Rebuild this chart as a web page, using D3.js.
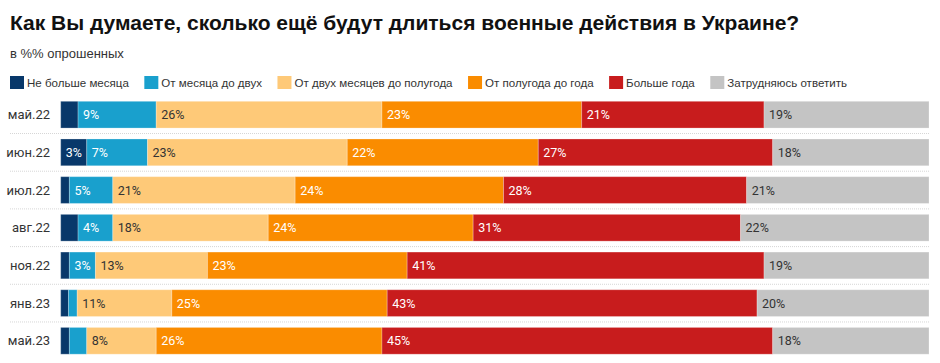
<!DOCTYPE html>
<html><head><meta charset="utf-8">
<script src="https://cdn.jsdelivr.net/npm/d3@7"></script>
<style>
body{margin:0;background:#fff;}
svg{display:block;}
</style></head>
<body>
<svg id="chart" width="940" height="363"></svg>
<script>
const categories = ["май.22","июн.22","июл.22","авг.22","ноя.22","янв.23","май.23"];
const seriesNames = ["Не больше месяца","От месяца до двух","От двух месяцев до полугода","От полугода до года","Больше года","Затрудняюсь ответить"];
const notMoreMonth   = [2, 3, 1, 2, 1, 0.9, 1];
const monthToTwo     = [9, 7, 5, 4, 3, 1, 2];
const twoToHalfYear  = [26, 23, 21, 17.9, 12.9, 10.9, 8];
const halfYearToYear = [23, 22, 24, 23.6, 23, 24.8, 26];
const moreThanYear   = [21, 27, 28, 30.8, 41.1, 42.6, 45];
const hardToSay      = [19, 18, 21, 21.7, 19, 19.8, 18];
const colors = ["#08386a","#19a0cd","#fec978","#fa8c00","#c81c1d","#c4c4c4"];
const textColors = ["#fff","#fff","#333","#fff","#fff","#333"];

const seriesValues = [notMoreMonth, monthToTwo, twoToHalfYear, halfYearToYear, moreThanYear, hardToSay];
const keys = seriesNames;
const table = categories.map((c,i)=>{
  const o = {cat:c};
  keys.forEach((k,j)=> o[k] = seriesValues[j][i]);
  return o;
});
const stack = d3.stack().keys(keys)(table);

const svg = d3.select("#chart");
const x = d3.scaleLinear().domain([0,100]).range([60.7, 929]);
const y = d3.scaleBand().domain(categories).range([101.3, 354.2]).paddingInner(0.29).paddingOuter(0);

// title
svg.append("text").attr("x",10).attr("y",30)
  .attr("font-family","'Liberation Sans', Arial, sans-serif").attr("font-weight","bold")
  .attr("font-size",21).attr("fill","#111")
  .text("Как Вы думаете, сколько ещё будут длиться военные действия в Украине?");
svg.append("text").attr("x",10).attr("y",58)
  .attr("font-family","'Liberation Sans', Arial, sans-serif")
  .attr("font-size",13).attr("fill","#333")
  .text("в %% опрошенных");

// legend
const lg = svg.append("g");
let lx = 10;
keys.forEach((k,j)=>{
  const g = lg.append("g").attr("transform",`translate(${lx},0)`);
  g.append("rect").attr("x",0).attr("y",76).attr("width",14).attr("height",13).attr("fill",colors[j]);
  const t = g.append("text").attr("x",17).attr("y",86.5)
    .attr("font-family","'Liberation Sans', Arial, sans-serif")
    .attr("font-size",11.55).attr("fill","#333").text(k);
  lx += 17 + t.node().getComputedTextLength() + 15.5;
});

// separators
categories.forEach((c,i)=>{
  if(i < categories.length-1){
    const yy = y(c) + y.bandwidth() + (y.step()-y.bandwidth())/2;
    svg.append("line").attr("x1",10).attr("x2",929).attr("y1",yy).attr("y2",yy)
      .attr("stroke","#d6d6d6").attr("stroke-width",1).attr("stroke-dasharray","1,1");
  }
});

// row labels
svg.append("g").selectAll("text").data(categories).join("text")
  .attr("x",50).attr("y",d=>y(d)+y.bandwidth()/2).attr("dy","0.35em")
  .attr("text-anchor","end").attr("font-family","Roboto, sans-serif")
  .attr("font-size",13).attr("fill","#333").text(d=>d);

// bars
const layers = svg.append("g").selectAll("g").data(stack).join("g");
layers.each(function(layer, j){
  const g = d3.select(this);
  g.selectAll("rect").data(layer).join("rect")
    .attr("x",d=>x(d[0])).attr("width",d=>x(d[1])-x(d[0]))
    .attr("y",d=>y(d.data.cat)).attr("height",y.bandwidth())
    .attr("fill",colors[j]).attr("stroke","rgba(255,255,255,0.25)").attr("stroke-width",1);
  g.selectAll("text").data(layer.filter(d=>d[1]-d[0] >= 2.5)).join("text")
    .attr("x",d=>x(d[0])+5).attr("y",d=>y(d.data.cat)+y.bandwidth()/2).attr("dy","0.36em")
    .attr("font-family","Roboto, sans-serif").attr("font-size",12.5)
    .attr("fill",textColors[j]).text(d=>Math.round(d[1]-d[0])+"%");
});
</script>
</body></html>
